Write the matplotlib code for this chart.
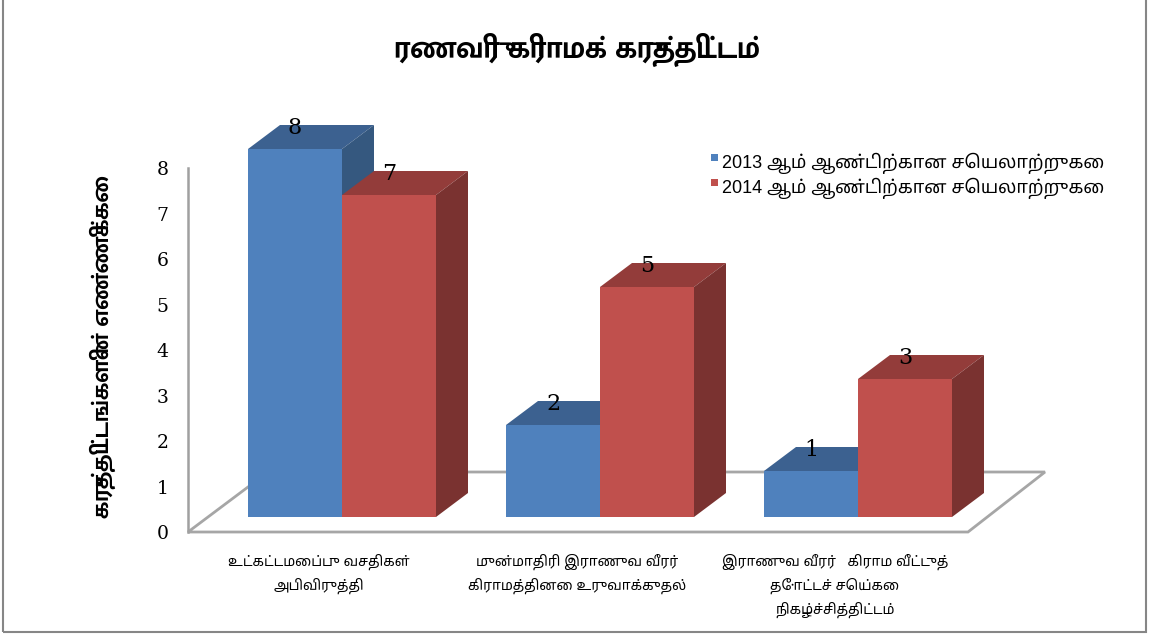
import matplotlib
matplotlib.use('Agg')
import matplotlib.pyplot as plt
from matplotlib.patches import Polygon, Rectangle
from matplotlib.transforms import blended_transform_factory

# data
title = 'ரணவிரு கிராமக் கருத்திட்டம்'
ylabel = 'கருத்திட்டங்களின் எண்ணிக்கை'
categories = ['உட்கட்டமைப்பு வசதிகள்\nஅபிவிருத்தி',
              'முன்மாதிரி இராணுவ வீரர்\nகிராமத்தினை உருவாக்குதல்',
              'இராணுவ வீரர்   கிராம வீட்டுத்\nதோட்டச் செய்கை\nநிகழ்ச்சித்திட்டம்']
series_names = ['2013 ஆம் ஆண்டிற்கான செயலாற்றுகை',
                '2014 ஆம் ஆண்டிற்கான செயலாற்றுகை']
values_2013 = [8, 2, 1]
values_2014 = [7, 5, 3]
yticks = [0, 1, 2, 3, 4, 5, 6, 7, 8]

# colours: front, top, side
blue = ('#4F81BD', '#3C6190', '#35587F')
red = ('#C0504D', '#933C3A', '#7A3230')

tamil_bold = ['Mukta Malar']
tamil_reg = ['Liberation Sans', 'Noto Sans Tamil']
num_font = 'DejaVu Serif'

W, H = 1152, 637
fig = plt.figure(figsize=(W / 100, H / 100), dpi=100)

def px_axes(x0, y0, x1, y1):
    # rectangle given in pixels (top-left origin)
    return [x0 / W, 1 - y1 / H, (x1 - x0) / W, (y1 - y0) / H]

# geometry in pixels
gx0, gx1 = 188, 1046
x_first, x_step = 342, 258
xlim = ((gx0 - x_first) / x_step, (gx1 - x_first) / x_step)

# front plane with the value axis and the floor
axf = fig.add_axes(px_axes(gx0, 168, gx1, 532))
axf.set_xlim(*xlim)
axf.set_ylim(0, 8)
axf.set_facecolor('none')
for s in ['top', 'right', 'bottom']:
    axf.spines[s].set_visible(False)
axf.spines['left'].set_color('#A0A0A0')
axf.spines['left'].set_linewidth(1.8)
axf.set_xticks([])
axf.set_yticks(yticks)
axf.set_yticklabels([str(t) for t in yticks], fontfamily=num_font, fontsize=13.5)
axf.tick_params(axis='y', length=0, pad=14)
floor_back = 60 / 45.5
floor = Polygon([(xlim[0], 0), ((968 - x_first) / x_step, 0),
                 ((1045 - x_first) / x_step, floor_back),
                 ((268 - x_first) / x_step, floor_back)],
                closed=True, facecolor='none', edgecolor='#A6A6A6', lw=2,
                clip_on=False)
axf.add_patch(floor)

# bars plane
axb = fig.add_axes(px_axes(gx0, 100, gx1, 532))
axb.set_xlim(*xlim)
axb.set_ylim(-15 / 46, 417 / 46)
axb.axis('off')

w = 94 / x_step
dx, dy = 32 / x_step, 24 / 46

def bar3d(x0, h, cols):
    front, top, side = cols
    axb.bar(x0, h, width=w, align='edge', color=front, lw=0)
    axb.add_patch(Polygon([(x0, h), (x0 + w, h), (x0 + w + dx, h + dy), (x0 + dx, h + dy)],
                          closed=True, facecolor=top, lw=0))
    axb.add_patch(Polygon([(x0 + w, 0), (x0 + w + dx, dy), (x0 + w + dx, h + dy), (x0 + w, h)],
                          closed=True, facecolor=side, lw=0))
    axb.text(x0 + w / 2, h + 0.45, str(h), ha='center', va='center',
             fontfamily=num_font, fontsize=16)

for i in range(len(categories)):
    bar3d(i - w, values_2013[i], blue)
    bar3d(i, values_2014[i], red)

# category labels
tr = blended_transform_factory(axb.transData, fig.transFigure)
for i, c in enumerate(categories):
    axb.text(i - 0.09, 1 - 554 / H, c, transform=tr, ha='center', va='top',
             fontfamily=tamil_reg, fontsize=10, linespacing=1.65)

# title and axis label
fig.text(577 / W, 1 - 50 / H, title, ha='center', va='center',
         fontfamily=tamil_bold, fontweight='bold', fontsize=22)
fig.text(103 / W, 1 - 347 / H, ylabel, ha='center', va='center', rotation=90,
         fontfamily=tamil_bold, fontweight='bold', fontsize=17.5)

# legend
for k, (name, cols) in enumerate(zip(series_names, [blue, red])):
    yc = 163 + 25 * k
    fig.add_artist(Rectangle((711 / W, 1 - (yc - 2) / H), 7 / W, 7 / H,
                             transform=fig.transFigure, color=cols[0], lw=0))
    fig.text(722 / W, 1 - yc / H, name, ha='left', va='center',
             fontfamily=tamil_reg, fontsize=13)

# outer frame (top edge sits outside the image, as in the original)
fig.add_artist(Rectangle((3 / W, 5 / H), 1143 / W, 640 / H, transform=fig.transFigure,
                         facecolor='none', edgecolor='#868686', lw=1.5))

fig.savefig('out.png', dpi=100)
